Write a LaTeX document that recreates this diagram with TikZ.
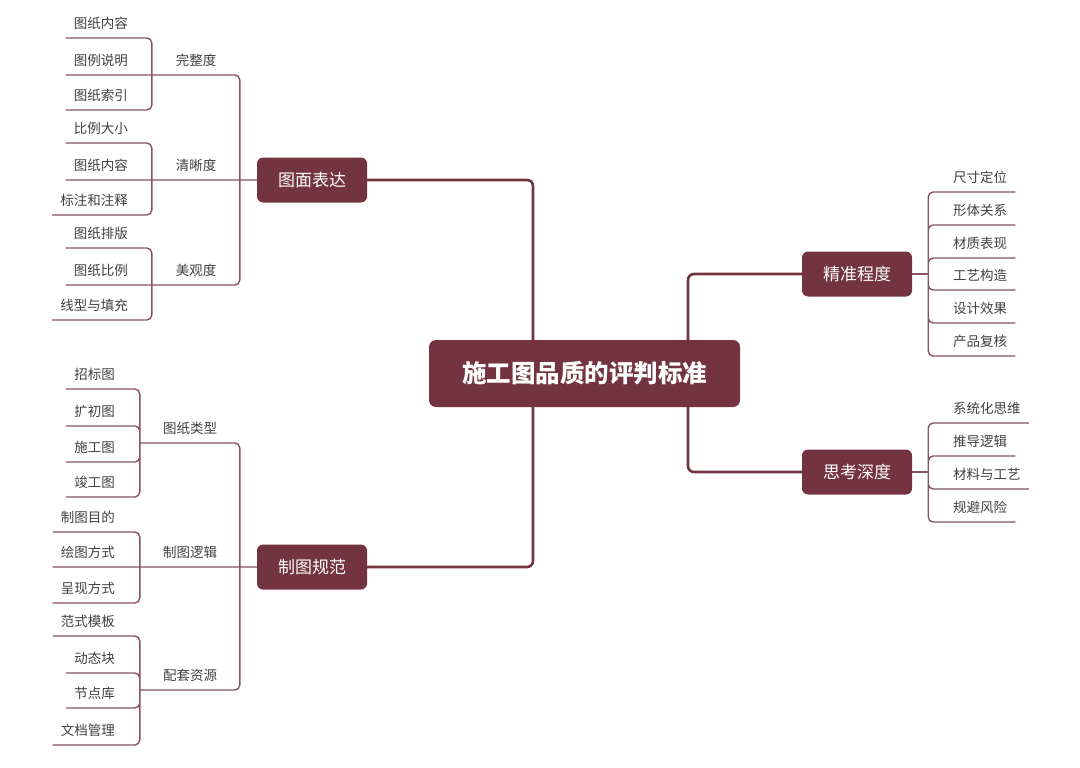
\documentclass[tikz,border=0pt]{standalone}
\usepackage{fontspec}
\setmainfont{Noto Sans CJK SC}
\usepackage{tikz}
\usetikzlibrary{positioning}
\definecolor{TopicRed}{HTML}{733341}
\definecolor{LeafGray}{HTML}{404040}

\begin{document}
\begin{tikzpicture}[
  x=1pt, y=-1pt,
  root/.style={
    fill=TopicRed,
    text=white,
    rounded corners=7pt,
    minimum width=311pt,
    minimum height=67pt,
    inner sep=0pt,
    font=\fontsize{24.5}{28}\selectfont\bfseries
  },
  branch/.style={
    fill=TopicRed,
    text=white,
    rounded corners=6pt,
    minimum width=110pt,
    minimum height=45pt,
    inner sep=0pt,
    font=\fontsize{17}{20}\selectfont
  },
  leafnode/.style={
    text=LeafGray,
    font=\fontsize{13.5}{16}\selectfont,
    text height=11pt,
    text depth=1pt,
    inner xsep=8pt,
    inner ysep=8pt
  },
  lleaf/.style={leafnode,anchor=south east},
  rleaf/.style={leafnode,anchor=south west},
  subtopic/.style={leafnode,anchor=south,inner xsep=0pt},
  trunk/.style={draw=TopicRed,line width=2.6pt,rounded corners=6pt},
  twig/.style={draw=TopicRed!85,line width=1.4pt,rounded corners=5pt}
]
\useasboundingbox (0,0) rectangle (1080,768);

\node[root] (root) at (584.5,373.5) {施工图品质的评判标准};

\node[branch] (tm) at (312,180) {图面表达};
\node[branch] (zt) at (312,567) {制图规范};
\node[branch] (jz) at (857,274) {精准程度};
\node[branch] (sk) at (857,472) {思考深度};

\coordinate (tmb) at ([xshift=-17]tm.west);
\coordinate (ztb) at ([xshift=-17]zt.west);
\coordinate (jzb) at ([xshift=16]jz.east);
\coordinate (skb) at ([xshift=16]sk.east);

\node[subtopic,minimum width=88pt] (wzd) at (196,75) {完整度};
\node[subtopic,minimum width=88pt] (qxd) at (196,180) {清晰度};
\node[subtopic,minimum width=88pt] (mgd) at (196,285) {美观度};

\node[lleaf] (a1) at (136,38) {图纸内容};
\node[lleaf] (a2) at (136,75) {图例说明};
\node[lleaf] (a3) at (136,110) {图纸索引};
\node[lleaf] (b1) at (136,143) {比例大小};
\node[lleaf] (b2) at (136,180) {图纸内容};
\node[lleaf] (b3) at (136,215) {标注和注释};
\node[lleaf] (c1) at (136,248) {图纸排版};
\node[lleaf] (c2) at (136,285) {图纸比例};
\node[lleaf] (c3) at (136,320) {线型与填充};

\node[subtopic,minimum width=100pt] (tzlx) at (190,443) {图纸类型};
\node[subtopic,minimum width=100pt] (ztlj) at (190,567) {制图逻辑};
\node[subtopic,minimum width=100pt] (ptzy) at (190,690) {配套资源};

\node[lleaf] (d1) at (123,389) {招标图};
\node[lleaf] (d2) at (123,426) {扩初图};
\node[lleaf] (d3) at (123,462) {施工图};
\node[lleaf] (d4) at (123,497) {竣工图};
\node[lleaf] (e1) at (123,532) {制图目的};
\node[lleaf] (e2) at (123,567) {绘图方式};
\node[lleaf] (e3) at (123,603) {呈现方式};
\node[lleaf] (f1) at (123,636) {范式模板};
\node[lleaf] (f2) at (123,673) {动态块};
\node[lleaf] (f3) at (123,708) {节点库};
\node[lleaf] (f4) at (123,745) {文档管理};

\node[rleaf] (g1) at (945,192) {尺寸定位};
\node[rleaf] (g2) at (945,225) {形体关系};
\node[rleaf] (g3) at (945,258) {材质表现};
\node[rleaf] (g4) at (945,290) {工艺构造};
\node[rleaf] (g5) at (945,323) {设计效果};
\node[rleaf] (g6) at (945,356) {产品复核};
\node[rleaf] (h1) at (945,423) {系统化思维};
\node[rleaf] (h2) at (945,456) {推导逻辑};
\node[rleaf] (h3) at (945,489) {材料与工艺};
\node[rleaf] (h4) at (945,522) {规避风险};

\draw[trunk] ([xshift=-51.5]root.north) |- (tm.east);
\draw[trunk] ([xshift=-51.5]root.south) |- (zt.east);
\draw[trunk] ([xshift=103.5]root.north) |- (jz.west);
\draw[trunk] ([xshift=103.5]root.south) |- (sk.west);

\draw[twig] (a1.south west) -| (wzd.south west) (a3.south west) -| (wzd.south west)
  (a2.south west) -- (wzd.south west);
\draw[twig] (b1.south west) -| (qxd.south west) (b3.south west) -| (qxd.south west)
  (b2.south west) -- (tm.west);
\draw[twig] (c1.south west) -| (mgd.south west) (c3.south west) -| (mgd.south west)
  (c2.south west) -- (mgd.south west);
\draw[twig] (wzd.south west) -| (tmb) (mgd.south west) -| (tmb);

\draw[twig] (d1.south west) -| (tzlx.south west) (d2.south west) -| (tzlx.south west)
  (d3.south west) -| (tzlx.south west) (d4.south west) -| (tzlx.south west);
\draw[twig] (e1.south west) -| (ztlj.south west) (e3.south west) -| (ztlj.south west)
  (e2.south west) -- (zt.west);
\draw[twig] (f1.south west) -| (ptzy.south west) (f2.south west) -| (ptzy.south west)
  (f3.south west) -| (ptzy.south west) (f4.south west) -| (ptzy.south west);
\draw[twig] (tzlx.south west) -| (ztb) (ptzy.south west) -| (ztb);

\draw[twig] (jz.east) -- (jzb);
\draw[twig] (jzb) |- (g1.south east) (jzb) |- (g2.south east) (jzb) |- (g3.south east)
  (jzb) |- (g4.south east) (jzb) |- (g5.south east) (jzb) |- (g6.south east);
\draw[twig] (sk.east) -- (skb);
\draw[twig] (skb) |- (h1.south east) (skb) |- (h2.south east)
  (skb) |- (h3.south east) (skb) |- (h4.south east);
\end{tikzpicture}
\end{document}
